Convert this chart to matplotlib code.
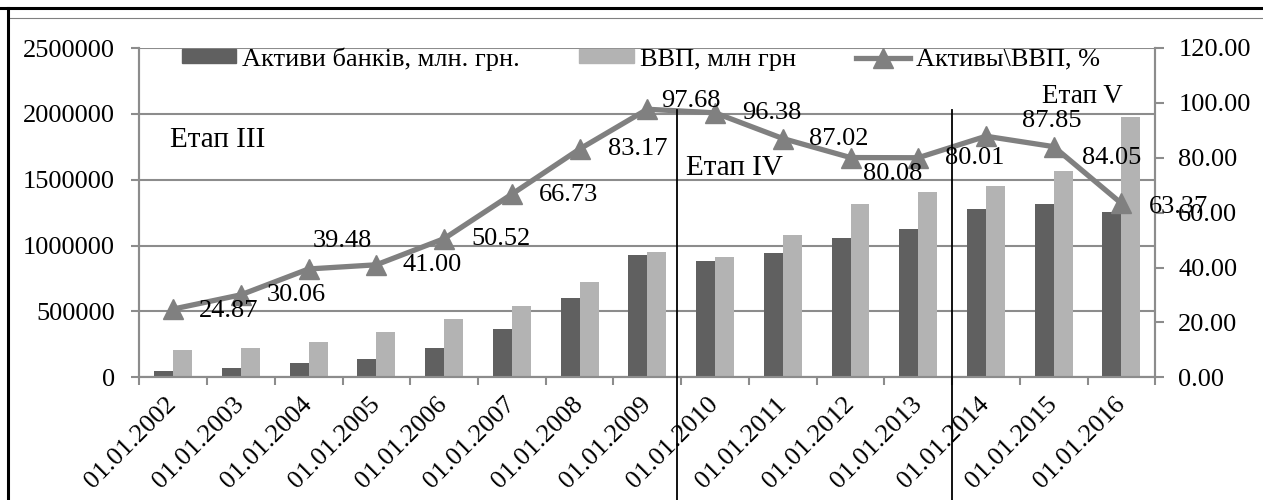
import matplotlib
matplotlib.use("Agg")
import matplotlib.pyplot as plt
from matplotlib.lines import Line2D
from matplotlib.patches import Patch
import matplotlib.transforms as mtransforms
import numpy as np

plt.rcParams['font.family'] = ['Liberation Serif', 'DejaVu Serif']
plt.rcParams['font.size'] = 19

# ---- data ----
dates = ["01.01.2002", "01.01.2003", "01.01.2004", "01.01.2005", "01.01.2006",
         "01.01.2007", "01.01.2008", "01.01.2009", "01.01.2010", "01.01.2011",
         "01.01.2012", "01.01.2013", "01.01.2014", "01.01.2015", "01.01.2016"]
bank_assets = [50785, 67774, 105548, 141500, 223024, 363113, 599396, 926086,
               880302, 942088, 1054272, 1127192, 1278095, 1316852, 1254385]
gdp = [204190, 225810, 267344, 345113, 441452, 544153, 720731, 948056,
       913345, 1082569, 1316600, 1408889, 1454931, 1566728, 1979458]
ratio = [24.87, 30.06, 39.48, 41.00, 50.52, 66.73, 83.17, 97.68,
         96.38, 87.02, 80.08, 80.01, 87.85, 84.05, 63.37]
series_names = ["Активи банків, млн. грн.", "ВВП, млн грн", "Активы\\ВВП, %"]
left_ticks = [0, 500000, 1000000, 1500000, 2000000, 2500000]
right_ticks = [0, 20, 40, 60, 80, 100, 120]
stage_names = ["Етап III", "Етап IV", "Етап V"]

# ---- styles / positions ----
label_offsets = [(26, -2), (26, 0), (4, 28), (26, 0), (27, 0), (27, -1), (28, 0),
                 (14, 8), (27, 0), (26, 0), (13, -16), (27, 0), (36, 15), (28, -11), (27, -4)]
stage_pos = [(-0.05, 86.3), (7.57, 76.1), (12.83, 102.3)]
stage_sizes = [21, 21, 19.5]
stage_lines = [7.44, 11.5]

dark = "#606060"
light = "#b3b3b3"
grey = "#8c8c8c"
linec = "#808080"

W, H = 1263, 500
fig = plt.figure(figsize=(W / 100, H / 100), dpi=100)
ax = fig.add_axes([139.3 / W, 1 - 377.3 / H, (1155.3 - 139.3) / W, (377.3 - 48) / H])
ax2 = ax.twinx()

x = np.arange(len(dates))
bw = 0.28
ax.bar(x - bw / 2, bank_assets, bw, color=dark, zorder=2)
ax.bar(x + bw / 2, gdp, bw, color=light, zorder=2)

ax.set_xlim(-0.5, len(dates) - 0.5)
ax.set_ylim(0, 2500000)
ax.set_yticks(left_ticks)
ax.set_yticklabels([str(v) for v in left_ticks])
ax.yaxis.grid(True, color=grey, lw=1.5, zorder=0)
ax.set_axisbelow(True)

ax.set_xticks(np.arange(-0.5, len(dates)), minor=False)
ax.set_xticklabels([])
ax.set_xticks(x, minor=True)
ax.set_xticklabels(dates, minor=True, rotation=45, ha='right', va='center',
                   rotation_mode='anchor')
ax.tick_params(axis='x', which='major', length=6, width=1.5, color=grey, direction='out')
ax.tick_params(axis='x', which='minor', length=0, pad=17)
ax.tick_params(axis='y', length=5.5, width=1.5, color=grey, pad=12)

for s in ['top']:
    ax.spines[s].set_visible(False)
    ax2.spines[s].set_visible(False)
for a in (ax, ax2):
    for s in ['left', 'right', 'bottom']:
        a.spines[s].set_color(grey)
        a.spines[s].set_linewidth(1.5)

ax2.plot(x, ratio, color=linec, lw=3.8, marker='^', markersize=14,
         markerfacecolor=linec, markeredgecolor=linec, zorder=3)
ax2.set_ylim(0, 120)
ax2.set_yticks(right_ticks)
ax2.set_yticklabels(["%.2f" % v for v in right_ticks])
ax2.tick_params(axis='y', length=6.5, width=1.5, color=grey, pad=10)

for xi, v, (dx, dy) in zip(x, ratio, label_offsets):
    ax2.annotate("%.2f" % v, (xi, v), xytext=(dx, dy), textcoords='offset pixels',
                 ha='left', va='center', fontsize=19, zorder=4)

for name, (sx, sy), fs in zip(stage_names, stage_pos, stage_sizes):
    ax2.text(sx, sy, name, ha='left', va='center', fontsize=fs, zorder=4)

trans = mtransforms.blended_transform_factory(ax.transData, fig.transFigure)
for lx in stage_lines:
    ax2.add_artist(Line2D([lx, lx], [0, 1 - 110 / H], transform=trans,
                          color='black', lw=1.3, clip_on=False, zorder=5))

handles = [Patch(color=dark), Patch(color=light),
           Line2D([], [], color=linec, lw=3.8, marker='^', markersize=14)]
leg = ax2.legend(handles, series_names, ncol=3, loc='center',
                 bbox_to_anchor=(641 / W, 1 - 59 / H), bbox_transform=fig.transFigure,
                 frameon=False, handlelength=2.05, handleheight=0.45,
                 handletextpad=0.25, columnspacing=2.25, fontsize=19, borderpad=0)

# outer frame
fig.add_artist(Line2D([0, W], [H - 8, H - 8], transform=None, color='black', lw=2.2))
fig.add_artist(Line2D([8, W], [H - 18, H - 18], transform=None, color='#808080', lw=0.8))
fig.add_artist(Line2D([7.5, 7.5], [0, H - 8], transform=None, color='black', lw=2.2))

fig.savefig("out.png", dpi=100)
